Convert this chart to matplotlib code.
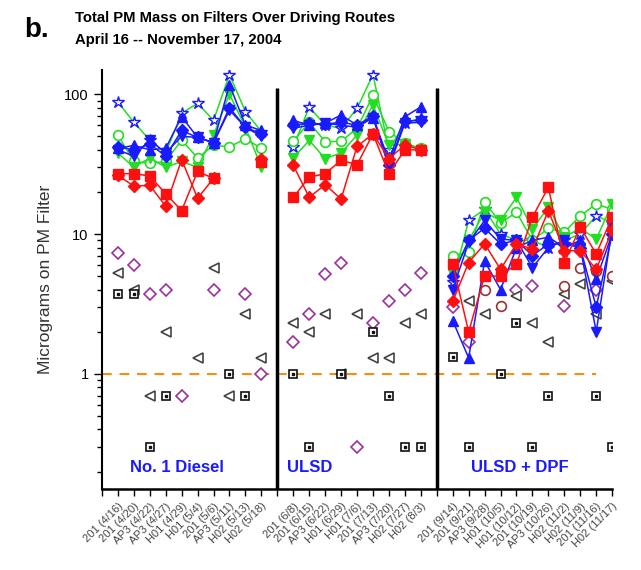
import numpy as np
import matplotlib.pyplot as plt
from matplotlib.ticker import FixedLocator, LogLocator, NullFormatter

plt.rcParams['font.family'] = ['Liberation Sans', 'DejaVu Sans']

nan = np.nan

# x positions: No. 1 Diesel 1-10, ULSD 12-20, ULSD + DPF 22-32 (11 and 21 are the dividers)
x_pos = np.arange(1, 33)

route_labels = [
    "201 (4/16)", "201 (4/20)", "AP3 (4/22)", "AP3 (4/27)", "H01 (4/29)",
    "H01 (5/4)", "201 (5/6)", "AP3 (5/11)", "H02 (5/13)", "H02 (5/18)",
    "",
    "201 (6/8)", "201 (6/15)", "AP3 (6/22)", "H01 (6/29)", "H01 (7/6)",
    "201 (7/13)", "AP3 (7/20)", "H02 (7/27)", "H02 (8/3)",
    "",
    "201 (9/14)", "201 (9/21)", "AP3 (9/28)", "H01 (10/5)", "H01 (10/12)",
    "201 (10/19)", "AP3 (10/26)", "H02 (11/2)", "H02 (11/9)", "201 (11/16)",
    "H02 (11/17)",
]

star_blue = [88, 63, 47, 38, 73, 86, 65, 138, 75, 54, nan,
             41.6, 81, 60, 57, 79, 138, 40, 62, 68, nan,
             4.5, 12.5, 15, 10, 9, 9, 8, 9, 10, 13.5, 12]
circle_green = [51, 33, 32, 33, 47, 35, 43, 42, 48, 41, nan,
                46, 63, 45.7, 46, 57, 98, 54, 44.6, 41, nan,
                7.0, 7.4, 16.9, 12, 14.3, 9, 11, 10.3, 13.5, 16.4, 15]
tri_down_green = [38, 30, 35, 30, 33, 30, 51, 100, 58, 30, nan,
                  35, 46.7, 34.6, 38, 51, 84, 43, 44, 40, nan,
                  5.2, 9, 14.3, 12.5, 18.3, 10.9, 15.5, 9.5, 11, 9.2, 16.4]
tri_up_blue = [41, 43, 40, 41, 69, 49, 45, 117, 60, 55, nan,
               65, 60, 62, 71, 60, 68, 33.7, 69, 81, nan,
               2.4, 1.3, 6.4, 4.0, 8, 9, 9.5, 8, 9, 4.75, 10]
tri_down_blue = [40, 36, 47, 38, 50, 49, 45, 77, 58, 50, nan,
                 57, 60, 62, 60, 58, 68, 30, 62, 63, nan,
                 4, 8.7, 12.5, 9.2, 9, 5.75, 8.0, 9, 8, 2.0, 11]
diamond_blue = [42, 40, 44, 36, 55, 49, 45, 80, 58, 52, nan,
                60, 62, 61, 63, 60, 70, 31, 64, 65, nan,
                5, 9, 11, 8.5, 9, 7, 8.5, 8.5, 8, 3, 10]
square_red = [27, 27, 26, 19.4, 14.7, 28, 25, nan, nan, 32.7, nan,
              18.3, 25.5, 27, 33.7, 31.3, 52, 27, 40, 40, nan,
              6.1, 2.0, 5.0, 5.0, 6.1, 13.2, 21.6, 6.25, 11.2, 7.2, 13.2]
diamond_red = [26.3, 22, 22.3, 15.8, 34, 18, 25, nan, nan, 34.6, nan,
               31, 18.3, 22.5, 17.8, 42.3, 52, 34.6, 43.3, 40, nan,
               3.3, 6.25, 8.5, 5.6, 8.5, 7.8, 14.7, 7.6, 7.6, 5.6, 10.6]
diamond_purple = [7.3, 6.0, 3.7, 4.0, 0.70, nan, 4.0, nan, 3.7, 1.0, nan,
                  1.7, 2.7, 5.2, 6.25, 0.30, 2.3, 3.3, 4.0, 5.3, nan,
                  3.0, 1.7, nan, nan, 4.0, 4.25, nan, 3.05, nan, 4.0, nan]
tri_left_gray = [5.3, 4.0, 0.70, 1.98, nan, 1.3, 5.7, 0.70, 2.7, 1.3, nan,
                 2.3, 1.98, 2.7, 1.0, 2.7, 1.3, 1.3, 2.3, 2.7, nan,
                 nan, 3.3, 2.7, nan, 3.6, 2.3, 1.7, 3.7, 4.4, 2.7, 4.6]
square_black = [3.7, 3.7, 0.30, 0.70, nan, nan, nan, 1.0, 0.70, nan, nan,
                1.0, 0.30, nan, 1.0, nan, 2.0, 0.70, 0.30, 0.30, nan,
                1.31, 0.30, nan, 1.0, 2.3, 0.30, 0.70, nan, nan, 0.70, 0.30]
circle_brown = [nan] * 21 + [nan, nan, 4.0, 3.05, nan, nan, nan, 4.25, 5.75, 5.4, 5.0]

section_names = ["No. 1 Diesel", "ULSD", "ULSD + DPF"]
section_centers = [4.7, 13.0, 26.2]
dividers = [11, 21]

BLUE = '#1a1aff'
GREEN = '#22dd22'
RED = '#ff1010'

fig = plt.figure(figsize=(6.41, 5.70), dpi=100)
ax = fig.add_axes([0.159, 0.142, 0.796, 0.736])

def arr(v):
    return np.array(v, dtype=float)

# connected series
ax.plot(x_pos, arr(star_blue), color=GREEN, lw=1.1, marker='*', ms=9,
        mfc='white', mec=BLUE, mew=1.0, zorder=3)
ax.plot(x_pos, arr(circle_green), color=GREEN, lw=1.1, marker='o', ms=7,
        mfc='white', mec=GREEN, mew=1.2, zorder=3)
ax.plot(x_pos, arr(tri_down_green), color=GREEN, lw=1.1, marker='v', ms=7,
        mfc=GREEN, mec=GREEN, zorder=3)
ax.plot(x_pos, arr(tri_up_blue), color=BLUE, lw=1.1, marker='^', ms=7,
        mfc=BLUE, mec=BLUE, zorder=4)
ax.plot(x_pos, arr(tri_down_blue), color=BLUE, lw=1.1, marker='v', ms=7,
        mfc=BLUE, mec=BLUE, zorder=4)
ax.plot(x_pos, arr(diamond_blue), color=BLUE, lw=1.1, marker='D', ms=6,
        mfc=BLUE, mec=BLUE, zorder=4)
ax.plot(x_pos, arr(square_red), color=RED, lw=1.1, marker='s', ms=6.5,
        mfc=RED, mec=RED, zorder=5)
ax.plot(x_pos, arr(diamond_red), color=RED, lw=1.1, marker='D', ms=6.5,
        mfc=RED, mec=RED, zorder=5)

# unconnected series
ax.plot(x_pos, arr(diamond_purple), ls='none', marker='D', ms=6,
        mfc='white', mec='#993399', mew=1.2, zorder=3)
ax.plot(x_pos, arr(tri_left_gray), ls='none', marker='<', ms=7,
        mfc='white', mec='#444444', mew=1.2, zorder=3)
ax.plot(x_pos, arr(square_black), ls='none', marker='s', ms=6,
        mfc='white', mec='#111111', mew=1.2, zorder=3)
ax.plot(x_pos, arr(square_black), ls='none', marker='s', ms=1.5,
        mfc='#111111', mec='#111111', zorder=3)
ax.plot(x_pos, arr(circle_brown), ls='none', marker='o', ms=7,
        mfc='white', mec='#993333', mew=1.2, zorder=3)

# 1 microgram reference line and section dividers
ax.hlines(1, 0, 31, colors='#ff8800', linestyles=(0, (5, 4)), lw=1.4, zorder=2)
ax.vlines(dividers, 0.15, 110, colors='black', lw=2.5, zorder=6)

for name, xc in zip(section_names, section_centers):
    ax.text(xc, 0.215, name, color=BLUE, fontsize=12, fontweight='bold',
            ha='center', va='center')

ax.set_yscale('log')
ax.set_ylim(0.15, 150)
ax.set_xlim(0, 32)

ax.yaxis.set_major_locator(FixedLocator([1, 10, 100]))
ax.set_yticklabels(['1', '10', '100'])
ax.yaxis.set_minor_locator(LogLocator(base=10, subs=np.arange(2, 10)))
ax.yaxis.set_minor_formatter(NullFormatter())
ax.tick_params(axis='y', which='major', length=6, width=1, labelsize=10.5)
ax.tick_params(axis='y', which='minor', length=3.5, width=1)

ax.xaxis.set_major_locator(FixedLocator(np.arange(0, 33)))
ax.set_xticklabels([''] + route_labels, rotation=45, ha='right',
                   rotation_mode='anchor', fontsize=8, color='#444444')
ax.tick_params(axis='x', length=5, width=1)

for side in ['top', 'right']:
    ax.spines[side].set_visible(False)
ax.spines['left'].set_linewidth(1.5)
ax.spines['bottom'].set_linewidth(1.8)

ax.set_ylabel('Micrograms on PM Filter', fontsize=12.5, color='#333333',
              labelpad=8)

fig.text(0.038, 0.935, 'b.', fontsize=20, fontweight='bold')
fig.text(0.117, 0.968, 'Total PM Mass on Filters Over Driving Routes',
         fontsize=10.7, fontweight='bold', va='center')
fig.text(0.117, 0.930, 'April 16 -- November 17, 2004',
         fontsize=10.7, fontweight='bold', va='center')

fig.savefig('out.png', dpi=100)
